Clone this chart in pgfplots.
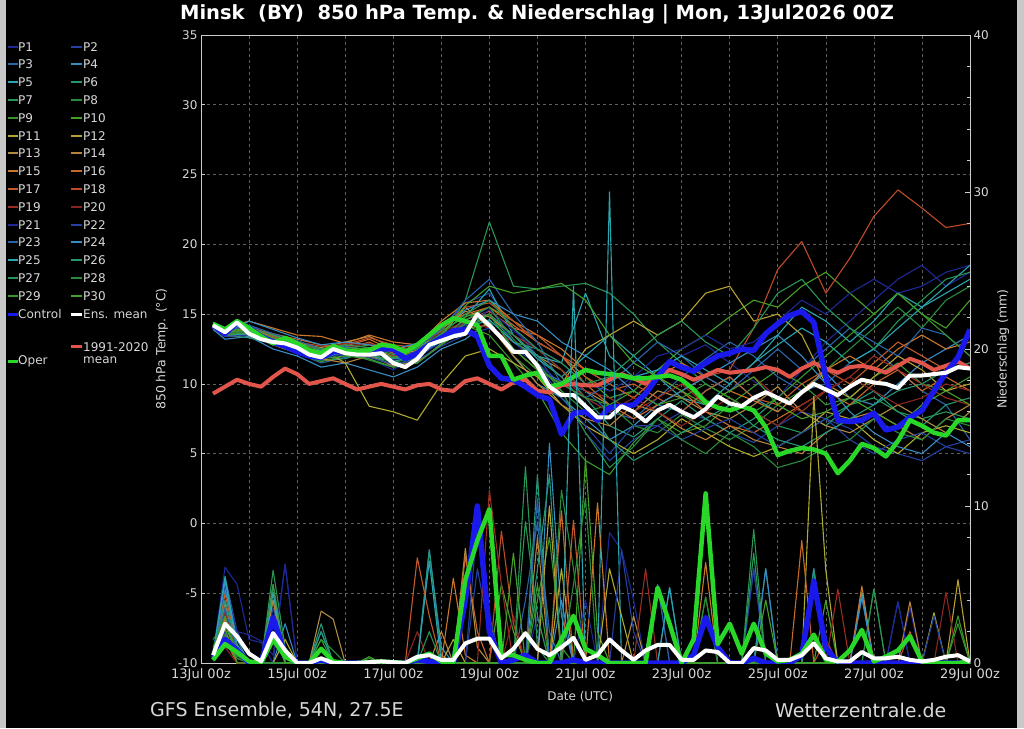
\documentclass[border=0pt]{standalone}
\usepackage{fontspec}
\setmainfont{DejaVu Sans}
\usepackage{pgfplots}
\pgfplotsset{compat=1.18}
\usepackage{pgfplotstable}

\definecolor{c1}{RGB}{30,40,150}
\definecolor{c2}{RGB}{35,65,160}
\definecolor{c3}{RGB}{40,100,170}
\definecolor{c4}{RGB}{55,140,195}
\definecolor{c5}{RGB}{40,165,175}
\definecolor{c6}{RGB}{35,150,120}
\definecolor{c7}{RGB}{40,150,85}
\definecolor{c8}{RGB}{40,140,60}
\definecolor{c9}{RGB}{55,150,45}
\definecolor{c10}{RGB}{70,160,40}
\definecolor{c11}{RGB}{175,170,45}
\definecolor{c12}{RGB}{185,160,50}
\definecolor{c13}{RGB}{175,140,65}
\definecolor{c14}{RGB}{185,130,60}
\definecolor{c15}{RGB}{205,120,40}
\definecolor{c16}{RGB}{200,105,40}
\definecolor{c17}{RGB}{195,90,45}
\definecolor{c18}{RGB}{190,75,40}
\definecolor{c19}{RGB}{155,45,35}
\definecolor{c20}{RGB}{140,35,35}
\definecolor{ctrl}{RGB}{25,25,235}
\definecolor{clim}{RGB}{225,85,75}
\definecolor{oper}{RGB}{40,215,40}
\definecolor{txt}{RGB}{215,215,215}
\definecolor{edge}{RGB}{200,200,200}

% member temperatures, one row per member (transposed below)
\pgfplotstableread{
name c0 c1 c2 c3 c4 c5 c6 c7 c8 c9 c10 c11 c12 c13 c14 c15 c16 c17 c18 c19 c20 c21 c22 c23 c24 c25 c26 c27 c28 c29 c30 c31 c32
t 0.25 0.5 1 1.5 2 2.5 3 3.5 4 4.5 5 5.5 6 6.5 7 7.5 8 8.5 9 9.5 10 10.5 11 11.5 12 12.5 13 13.5 14 14.5 15 15.5 16
P1 14.0 13.5 13.8 13.2 12.4 12.0 12.6 11.8 11.0 12.0 13.5 14.5 15.5 13.0 11.5 10.0 9.0 8.0 10.5 11.0 12.0 12.8 11.5 10.2 9.0 11.0 13.0 14.5 16.0 17.5 18.5 17.0 18.0
P2 14.3 13.9 14.2 13.4 12.8 12.2 12.0 12.5 11.8 12.4 14.0 15.8 16.5 14.0 12.0 9.5 6.5 4.5 6.0 7.0 8.0 7.5 6.5 5.8 7.0 8.0 7.5 6.8 5.5 5.0 4.5 5.5 5.0
P3 14.1 13.4 13.6 12.8 12.2 11.5 11.9 12.3 11.2 11.5 12.8 14.0 15.0 12.5 11.0 10.2 9.5 8.0 7.5 9.0 10.5 11.8 13.0 12.0 10.5 9.5 10.0 11.5 12.5 11.0 9.5 8.5 6.0
P4 13.9 13.2 13.4 12.5 12.0 11.2 11.5 11.0 10.5 11.2 12.5 13.2 14.5 12.0 10.0 9.0 7.5 6.0 7.0 8.5 8.0 9.5 10.5 9.0 8.0 9.5 10.8 9.0 8.5 10.0 11.5 12.5 13.5
P5 14.2 13.6 14.0 13.5 12.9 12.4 12.8 12.0 11.6 12.2 13.0 14.8 16.8 13.5 11.8 10.5 12.0 13.5 12.0 10.5 9.0 8.5 10.0 11.5 12.8 14.0 13.0 11.5 12.5 14.0 15.5 16.5 17.5
P6 14.0 13.5 13.3 12.9 12.5 11.7 11.8 12.4 11.9 11.5 12.9 13.8 15.0 13.0 12.5 11.0 9.0 7.0 6.2 7.5 8.8 7.5 6.5 7.5 9.0 8.0 7.0 8.5 9.5 8.0 7.0 8.5 9.0
P7 14.4 13.8 13.9 13.3 12.7 12.1 12.4 12.0 11.4 11.8 13.2 16.0 21.6 17.0 16.8 17.0 17.2 16.5 15.0 13.0 11.5 10.0 9.0 8.0 7.0 6.5 7.5 8.5 9.0 8.0 7.5 8.0 7.5
P8 14.1 13.7 13.5 13.0 12.6 12.0 12.2 11.7 11.2 11.9 13.6 15.0 14.5 12.0 10.5 9.5 8.0 8.5 7.0 6.5 7.8 6.8 6.0 7.0 8.5 9.5 11.0 12.5 14.0 15.5 14.0 16.0 17.0
P9 14.2 13.6 13.8 12.9 12.3 11.6 12.0 12.2 11.6 12.1 13.3 14.2 13.5 11.5 9.5 6.5 4.5 3.5 5.8 7.5 6.5 7.0 8.5 9.8 11.0 10.0 8.5 9.0 10.5 11.5 10.0 9.5 10.5
P10 14.0 13.5 13.7 13.1 12.8 12.3 12.5 12.8 12.2 12.5 13.8 14.8 15.5 14.5 13.0 12.0 10.5 9.0 9.5 11.0 12.5 13.5 14.8 16.0 15.5 17.0 18.0 16.5 15.0 16.5 15.0 14.0 16.0
P11 14.3 13.9 13.9 13.5 13.0 12.5 11.5 8.4 8.0 7.4 10.0 12.0 12.5 11.5 10.5 8.5 7.0 6.0 5.0 6.0 7.5 6.5 5.5 4.8 5.5 6.5 8.0 7.5 6.0 5.0 6.5 7.0 6.5
P12 14.2 13.7 13.6 13.0 12.5 12.0 12.4 12.6 12.0 12.4 13.5 15.5 14.0 12.5 11.0 10.0 12.5 13.5 14.5 13.5 14.5 16.5 17.0 14.5 15.0 13.5 10.0 9.0 10.5 12.0 11.0 9.5 10.0
P13 14.1 13.6 13.9 13.4 12.9 12.6 13.0 13.4 12.6 12.5 13.9 15.2 14.8 13.5 12.0 11.0 9.5 8.5 8.0 9.5 9.0 8.0 7.5 8.5 9.8 8.0 7.0 6.5 7.5 8.5 7.5 6.5 8.0
P14 14.0 13.4 13.5 12.8 12.2 11.8 11.5 12.0 11.3 11.6 12.8 14.0 14.2 12.0 10.0 8.5 7.5 7.0 8.5 8.0 6.8 6.0 7.0 6.0 5.5 5.0 6.5 7.5 8.0 7.0 6.0 7.5 8.5
P15 14.4 14.0 14.5 14.0 13.5 13.4 12.9 13.5 13.0 12.8 14.5 15.8 16.0 14.5 13.5 12.5 11.0 10.0 9.0 10.5 11.5 10.5 9.5 8.8 8.0 9.5 11.0 12.0 11.0 12.5 13.5 12.5 13.0
P16 14.2 13.8 14.0 13.6 13.2 12.8 12.7 13.2 12.4 12.9 14.2 15.0 15.5 14.2 13.0 12.0 10.0 8.5 7.5 8.5 9.5 8.0 7.0 6.5 7.5 8.5 9.5 8.5 10.0 11.0 9.5 10.5 9.5
P17 14.1 13.5 13.7 13.2 12.4 12.2 12.5 13.0 12.2 12.0 13.4 14.6 15.2 14.0 13.5 12.0 10.5 9.5 10.0 9.0 8.0 9.5 10.5 9.0 8.5 10.0 11.0 10.0 11.5 13.0 12.0 11.0 11.5
P18 14.3 13.9 14.1 13.4 13.0 12.7 12.8 13.3 12.8 12.6 14.0 15.5 15.8 14.5 13.0 12.0 11.0 10.0 9.0 10.5 9.5 10.5 11.0 14.0 18.2 20.2 16.5 19.0 22.0 23.9 22.6 21.2 21.5
P19 14.0 13.6 13.8 13.3 12.8 12.5 12.9 12.8 12.0 12.3 13.4 14.4 15.0 13.5 12.5 11.0 9.5 9.0 8.0 9.0 10.0 8.5 9.5 10.5 9.0 8.0 9.5 10.5 12.0 11.0 10.0 9.0 8.5
P20 14.2 13.7 13.9 13.1 12.6 12.3 12.6 12.9 12.3 12.7 13.7 14.5 14.0 13.0 12.0 10.5 9.0 8.0 9.0 8.0 7.0 8.0 9.0 8.0 7.0 8.5 9.5 10.5 9.5 8.5 9.0 10.0 9.5
P21 14.1 13.5 13.7 12.9 12.4 11.9 12.1 12.3 11.7 11.9 13.0 14.2 15.3 13.8 12.5 11.5 10.0 9.5 10.5 12.0 12.5 13.5 12.5 13.0 14.5 16.0 15.0 16.5 17.5 16.5 17.0 18.0 18.5
P22 14.0 13.4 13.5 12.8 12.3 11.8 12.2 11.9 11.4 11.7 12.7 13.5 14.0 12.5 11.5 9.0 7.0 5.0 7.0 7.0 6.0 6.8 7.5 6.5 5.5 6.5 7.5 6.0 5.0 6.0 6.5 5.5 6.0
P23 14.3 13.8 14.2 13.6 13.1 12.5 12.7 12.4 11.9 12.6 13.9 16.0 17.5 15.0 13.0 10.0 9.0 10.0 11.5 13.0 12.0 10.5 9.5 11.0 12.5 11.0 12.5 14.0 13.0 12.0 14.0 13.5 12.0
P24 14.2 13.7 14.5 13.9 13.3 12.8 13.0 12.8 12.5 12.9 14.1 15.3 16.0 15.0 14.5 13.0 12.0 11.0 9.5 8.5 9.5 10.5 11.5 12.5 13.5 12.0 10.0 8.0 6.5 5.5 5.0 6.5 5.5
P25 14.1 13.5 13.6 13.0 12.5 11.9 12.3 12.1 11.6 12.0 13.1 14.0 14.6 13.0 12.0 11.5 16.5 12.0 10.5 11.0 12.0 11.0 10.0 11.5 13.5 15.5 14.5 13.0 14.5 16.5 15.5 17.0 18.5
P26 14.0 13.6 13.8 13.2 12.7 12.2 12.5 12.3 11.8 12.2 13.3 14.3 15.0 13.5 12.0 10.5 8.5 6.0 4.5 5.5 6.5 7.5 8.5 7.0 6.0 5.5 6.5 7.5 8.5 9.5 10.0 11.0 11.5
P27 14.4 13.8 14.0 13.5 12.9 12.5 12.8 12.6 12.1 12.5 13.6 15.0 16.0 14.0 12.5 11.5 10.0 10.5 12.0 13.5 14.5 13.0 12.0 14.0 16.5 17.5 15.5 14.0 12.5 14.5 16.0 17.5 18.0
P28 14.2 13.6 13.8 13.1 12.6 12.0 12.4 12.2 11.5 12.0 13.4 14.6 15.5 13.2 11.5 9.5 6.5 4.0 5.5 7.5 6.0 5.0 6.5 5.5 4.0 4.5 5.5 6.0 7.5 6.5 6.0 7.5 7.0
P29 14.0 13.5 13.7 13.0 12.5 11.8 12.0 11.8 11.2 11.5 12.8 14.0 15.0 12.5 11.0 10.0 9.0 8.5 9.5 8.5 9.0 10.0 9.0 8.0 9.0 10.5 12.0 13.5 15.0 16.5 15.0 13.5 12.0
P30 14.3 13.7 13.9 13.3 12.8 12.3 12.6 12.5 11.9 12.3 13.5 15.6 17.0 16.5 16.8 17.2 16.0 13.5 11.5 10.5 9.5 8.5 9.5 10.5 8.5 7.5 8.0 9.0 8.0 7.0 8.5 9.5 8.5
}\rawT
\pgfplotstabletranspose[colnames from=name]\memT\rawT

% main temperature series (6-hourly)
\pgfplotstableread{
t mean clim ctrl oper
0.25 14.2 9.3 14.2 14.3
0.5 13.7 9.8 13.6 13.9
0.75 14.4 10.3 14.4 14.5
1.0 13.6 10.0 14.0 14.0
1.25 13.2 9.8 13.4 13.4
1.5 13.0 10.5 13.0 12.9
1.75 12.9 11.1 12.7 13.3
2.0 12.6 10.7 12.3 12.9
2.25 12.1 10.0 12.0 12.4
2.5 11.9 10.2 11.9 12.2
2.75 12.5 10.4 12.3 12.7
3.0 12.2 10.0 12.4 12.4
3.25 12.1 9.6 12.2 12.3
3.5 12.1 9.8 12.2 12.4
3.75 12.2 10.0 12.5 12.8
4.0 11.5 9.8 12.5 12.7
4.25 11.2 9.6 11.8 12.3
4.5 11.8 9.9 12.2 12.8
4.75 12.8 10.0 12.8 13.5
5.0 13.1 9.6 13.3 14.2
5.25 13.4 9.5 13.8 14.7
5.5 13.6 10.2 13.9 14.5
5.75 15.0 10.4 13.4 14.2
6.0 14.2 10.0 11.3 12.0
6.25 13.3 9.6 10.4 12.0
6.5 12.3 10.1 10.3 10.3
6.75 12.3 10.3 9.8 10.6
7.0 11.3 9.5 9.2 10.8
7.25 9.8 9.4 8.9 9.8
7.5 9.2 9.9 6.4 10.0
7.75 9.2 10.0 7.9 10.5
8.0 8.4 9.9 8.0 11.0
8.25 7.6 9.9 7.4 10.8
8.5 7.6 10.3 8.3 10.7
8.75 8.4 10.7 8.4 10.6
9.0 8.0 10.4 8.5 10.4
9.25 7.3 10.0 9.3 10.4
9.5 8.1 10.5 10.5 10.5
9.75 8.5 11.0 11.6 10.6
10.0 8.0 10.7 11.2 10.3
10.25 7.6 10.3 10.9 9.6
10.5 8.2 10.6 11.5 8.7
10.75 9.1 11.0 12.0 8.3
11.0 8.6 10.8 12.2 8.1
11.25 8.4 10.9 12.5 8.4
11.5 9.0 11.0 12.4 8.1
11.75 9.4 11.2 13.6 6.9
12.0 9.0 11.0 14.3 4.9
12.25 8.6 10.5 14.9 5.2
12.5 9.4 11.1 15.2 5.4
12.75 10.0 11.5 14.4 5.3
13.0 9.6 11.1 10.5 5.0
13.25 9.2 10.8 7.4 3.6
13.5 9.8 11.2 7.3 4.5
13.75 10.3 11.3 7.4 5.7
14.0 10.1 11.1 7.9 5.4
14.25 10.0 10.8 6.7 4.8
14.5 9.7 11.3 6.9 5.9
14.75 10.6 11.8 7.6 7.4
15.0 10.6 11.5 8.1 7.0
15.25 10.7 11.0 9.5 6.5
15.5 10.8 11.3 10.8 6.3
15.75 11.2 11.6 11.9 7.4
16.0 11.1 11.1 13.9 7.4
}\mainT

% main precipitation series (6-hourly, mm)
\pgfplotstableread{
t mean ctrl oper
0.25 0.5 0.3 0.2
0.5 2.5 1.5 1.2
0.75 1.7 0.8 0.7
1.0 0.6 0.0 0.1
1.25 0.1 0.0 0.0
1.5 1.9 2.9 1.5
1.75 0.8 0.5 0.4
2.0 0.0 0.0 0.0
2.25 0.0 0.0 0.0
2.5 0.3 0.2 0.9
2.75 0.0 0.0 0.1
3.0 0.0 0.0 0.0
3.25 0.0 0.0 0.0
3.5 0.05 0.0 0.05
3.75 0.1 0.0 0.1
4.0 0.05 0.0 0.05
4.25 0.0 0.0 0.0
4.5 0.4 0.2 0.3
4.75 0.5 0.1 0.6
5.0 0.2 0.0 0.1
5.25 0.2 0.0 0.0
5.5 1.25 4.0 5.3
5.75 1.55 10.0 7.8
6.0 1.55 2.0 9.8
6.25 0.3 0.0 0.5
6.5 0.9 0.2 0.5
6.75 1.9 0.5 0.2
7.0 0.9 0.0 0.0
7.25 0.5 0.0 0.0
7.5 1.0 0.0 1.5
7.75 1.6 0.2 3.0
8.0 0.2 0.0 0.9
8.25 0.5 0.0 0.5
8.5 1.5 0.0 0.0
8.75 0.8 0.0 0.0
9.0 0.2 0.0 0.0
9.25 0.8 0.0 0.0
9.5 1.15 0.0 4.8
9.75 1.15 0.0 2.5
10.0 0.2 0.0 0.0
10.25 0.2 0.5 1.5
10.5 0.8 2.9 10.8
10.75 0.7 1.0 1.2
11.0 0.0 0.0 2.5
11.25 0.0 0.0 0.6
11.5 0.95 0.3 2.5
11.75 0.8 0.0 0.6
12.0 0.2 0.0 0.1
12.25 0.2 0.0 0.2
12.5 0.5 0.5 0.6
12.75 1.25 5.2 1.8
13.0 0.3 1.0 0.2
13.25 0.1 0.0 0.1
13.5 0.1 0.0 0.8
13.75 0.7 0.0 2.1
14.0 0.3 0.0 0.1
14.25 0.3 0.0 0.4
14.5 0.4 0.0 0.8
14.75 0.2 0.0 1.7
15.0 0.1 0.0 0.1
15.25 0.2 0.0 0.0
15.5 0.4 0.0 0.0
15.75 0.5 0.0 0.0
16.0 0.1 0.0 0.1
}\mainP

\pgfplotsset{
  mw/.style={line width=1.1pt, line join=round},
}

\begin{document}
\begin{tikzpicture}
\fill[black] (0pt,0pt) rectangle (1024pt,728pt);
\fill[edge] (0pt,0pt) rectangle (6pt,728pt);
\fill[edge] (1017pt,0pt) rectangle (1024pt,728pt);

% ---------- temperature axis ----------
\begin{axis}[
  at={(201pt,65pt)}, anchor=south west,
  width=769pt, height=628pt, scale only axis,
  xmin=0, xmax=16, ymin=-10, ymax=35,
  axis line style={draw=white!80!black, line width=0.8pt},
  xtick={0,1,...,16},
  xticklabels={13Jul 00z,,15Jul 00z,,17Jul 00z,,19Jul 00z,,21Jul 00z,,23Jul 00z,,25Jul 00z,,27Jul 00z,,29Jul 00z},
  ytick={-10,-5,...,35},
  yticklabels={-10,-5,0,5,10,15,20,25,30,35},
  xtick pos=bottom, ytick pos=left,
  major tick length=4pt,
  tick style={draw=white!80!black, line width=0.6pt},
  xmajorgrids, ymajorgrids,
  grid style={draw=gray!75!black, line width=0.6pt, dash pattern=on 3pt off 3pt},
  xticklabel style={text=txt, font=\fontsize{13}{13}\selectfont, yshift=-2pt},
  yticklabel style={text=txt, font=\fontsize{12}{12}\selectfont},
  xlabel={Date (UTC)}, ylabel={850 hPa Temp. (°C)},
  every axis x label/.style={at={(axis description cs:0.493,-0.054)}, anchor=center, text=txt, font=\fontsize{12}{12}\selectfont},
  every axis y label/.style={at={(axis description cs:-0.0507,0.5)}, rotate=90, anchor=center, text=txt, font=\fontsize{12.5}{12.5}\selectfont},
]
\addplot[c1, mw] table[x=t,y=P1]{\memT};
\addplot[c2, mw] table[x=t,y=P2]{\memT};
\addplot[c3, mw] table[x=t,y=P3]{\memT};
\addplot[c4, mw] table[x=t,y=P4]{\memT};
\addplot[c5, mw] table[x=t,y=P5]{\memT};
\addplot[c6, mw] table[x=t,y=P6]{\memT};
\addplot[c7, mw] table[x=t,y=P7]{\memT};
\addplot[c8, mw] table[x=t,y=P8]{\memT};
\addplot[c9, mw] table[x=t,y=P9]{\memT};
\addplot[c10, mw] table[x=t,y=P10]{\memT};
\addplot[c11, mw] table[x=t,y=P11]{\memT};
\addplot[c12, mw] table[x=t,y=P12]{\memT};
\addplot[c13, mw] table[x=t,y=P13]{\memT};
\addplot[c14, mw] table[x=t,y=P14]{\memT};
\addplot[c15, mw] table[x=t,y=P15]{\memT};
\addplot[c16, mw] table[x=t,y=P16]{\memT};
\addplot[c17, mw] table[x=t,y=P17]{\memT};
\addplot[c18, mw] table[x=t,y=P18]{\memT};
\addplot[c19, mw] table[x=t,y=P19]{\memT};
\addplot[c20, mw] table[x=t,y=P20]{\memT};
\addplot[c1, mw] table[x=t,y=P21]{\memT};
\addplot[c2, mw] table[x=t,y=P22]{\memT};
\addplot[c3, mw] table[x=t,y=P23]{\memT};
\addplot[c4, mw] table[x=t,y=P24]{\memT};
\addplot[c5, mw] table[x=t,y=P25]{\memT};
\addplot[c6, mw] table[x=t,y=P26]{\memT};
\addplot[c7, mw] table[x=t,y=P27]{\memT};
\addplot[c8, mw] table[x=t,y=P28]{\memT};
\addplot[c9, mw] table[x=t,y=P29]{\memT};
\addplot[c10, mw] table[x=t,y=P30]{\memT};
\addplot[clim, line width=4pt, line join=round] table[x=t,y=clim]{\mainT};
\addplot[ctrl, line width=5.5pt, line join=round] table[x=t,y=ctrl]{\mainT};
\addplot[oper, line width=4.5pt, line join=round] table[x=t,y=oper]{\mainT};
\addplot[white, line width=4pt, line join=round] table[x=t,y=mean]{\mainT};
\end{axis}

% ---------- precipitation axis ----------
\begin{axis}[
  at={(201pt,65pt)}, anchor=south west,
  width=769pt, height=628pt, scale only axis,
  xmin=0, xmax=16, ymin=0, ymax=40,
  axis y line*=right, axis x line=none,
  axis line style={draw=white!80!black, line width=0.8pt},
  ytick={0,10,...,40}, yticklabels={0,10,20,30,40},
  minor ytick={2,4,...,38},
  major tick length=5pt, minor tick length=3pt,
  tick style={draw=white!80!black, line width=0.6pt},
  yticklabel style={text=txt, font=\fontsize{12}{12}\selectfont},
  ylabel={Niederschlag (mm)},
  every axis y label/.style={at={(axis description cs:1.043,0.5)}, rotate=90, anchor=center, text=txt, font=\fontsize{12.5}{12.5}\selectfont},
]
\addplot[c1, mw] coordinates {(0.25,0.5)(0.5,6.1)(0.75,5.0)(1,1.5)(1.25,1.3)(1.5,0)(1.75,6.3)(2,0)(6.75,0)(7,3.0)(7.25,0)(8.25,0)(8.5,8.3)(8.75,7.2)(9,4.0)(9.25,0)(14.5,0)(14.75,3.5)(15,0)(16,0)};
\addplot[c2, mw] coordinates {(0.25,0.3)(0.5,4.0)(0.75,1.0)(1,0)(1.25,0)(1.5,3.5)(1.75,0.5)(2,0)(5.5,0)(5.75,6.0)(6,2.0)(6.25,0)(9.25,0)(9.5,5.0)(9.75,0)(11.25,0)(11.5,6.0)(11.75,0)(14.25,0)(14.5,3.9)(14.75,0)(16,0)};
\addplot[c3, mw] coordinates {(0.25,0.2)(0.5,5.5)(0.75,2.0)(1,0.5)(1.25,0)(1.5,2.0)(1.75,0)(6.5,0)(6.75,4.0)(7,9.0)(7.25,2.0)(7.5,0)(12.5,0)(12.75,6.0)(13,0)(13.5,0)(13.75,4.2)(14,0)(16,0)};
\addplot[c4, mw] coordinates {(0.25,0.4)(0.5,4.7)(0.75,1.2)(1,0)(1.5,0)(1.75,2.5)(2,0)(4.5,0)(4.75,7.2)(5,1.0)(5.25,0)(7,0)(7.25,14.0)(7.5,3.0)(7.75,0)(9.5,0)(9.75,4.8)(10,0)(12.5,0)(12.75,6.0)(13,0)(16,0)};
\addplot[c5, mw] coordinates {(0.25,0.3)(0.5,5.0)(0.75,1.0)(1,0)(1.25,0)(1.5,4.0)(1.75,0)(8.25,0)(8.5,30.0)(8.75,0)(13.5,0)(13.75,4.5)(14,0)(16,0)};
\addplot[c6, mw] coordinates {(0.25,0.5)(0.5,3.0)(0.75,0.5)(1,0)(2.25,0)(2.5,2.5)(2.75,0)(4.5,0)(4.75,7.2)(5,0.5)(5.25,0)(6.75,0)(7,12.0)(7.25,0)(11.5,0)(11.75,6.0)(12,0)(16,0)};
\addplot[c7, mw] coordinates {(0.25,0.8)(0.5,3.5)(0.75,0.8)(1,0)(1.25,0)(1.5,5.9)(1.75,1.0)(2,0)(6.5,0)(6.75,12.5)(7,1.0)(7.25,0)(11.25,0)(11.5,8.5)(11.75,0)(16,0)};
\addplot[c8, mw] coordinates {(0.25,1.5)(0.5,2.5)(0.75,0.5)(1,0)(2.25,0)(2.5,1.5)(2.75,0.8)(3,0)(7.25,0)(7.5,11.0)(7.75,6.0)(8,0)(13.75,0)(14,4.7)(14.25,0)(16,0)};
\addplot[c9, mw] coordinates {(0.25,0.3)(0.5,2.0)(0.75,0.3)(1,0)(1.25,0)(1.5,4.5)(1.75,0)(6.75,0)(7,4.0)(7.25,8.0)(7.5,1.0)(7.75,0)(10.25,0)(10.5,4.2)(10.75,0)(15.5,0)(15.75,2.5)(16,0)};
\addplot[c10, mw] coordinates {(0.25,0.2)(0.5,1.5)(0.75,0)(3.25,0)(3.5,0.4)(3.75,0)(6,0)(6.25,5.0)(6.5,2.0)(6.75,0)(7.75,0)(8,13.0)(8.25,2.0)(8.5,0)(12.75,0)(13,4.0)(13.25,0)(16,0)};
\addplot[c11, mw] coordinates {(0.25,0.2)(0.5,2.5)(0.75,0.5)(1,0)(1.5,0)(1.75,1.5)(2,0)(7.25,0)(7.5,6.0)(7.75,0)(8.25,0)(8.5,6.0)(8.75,3.0)(9,0)(12.5,0)(12.75,17.0)(13,5.9)(13.25,0)(15,0)(15.25,3.2)(15.5,0)(16,0)};
\addplot[c12, mw] coordinates {(0.25,0.3)(0.5,3.0)(0.75,0.8)(1,0)(5,0)(5.25,1.5)(5.5,0)(7,0)(7.25,10.0)(7.5,0)(15.5,0)(15.75,5.3)(16,0)};
\addplot[c13, mw] coordinates {(0.25,0.4)(0.5,3.8)(0.75,0.5)(1,0)(2.25,0)(2.5,3.3)(2.75,2.8)(3,0)(5.25,0)(5.5,7.3)(5.75,1.0)(6,0)(8.75,0)(9,3.0)(9.25,0)(16,0)};
\addplot[c14, mw] coordinates {(0.25,0.2)(0.5,2.0)(0.75,0)(1.25,0)(1.5,4.0)(1.75,0)(4.75,0)(5,2.0)(5.25,0)(6.75,0)(7,8.0)(7.25,0)(14.5,0)(14.75,3.9)(15,0)(16,0)};
\addplot[c15, mw] coordinates {(0.25,0.5)(0.5,2.8)(0.75,0.5)(1,0)(1.25,0)(1.5,5.0)(1.75,0)(5,0)(5.25,5.4)(5.5,0.5)(5.75,0)(8,0)(8.25,10.2)(8.5,0)(10.25,0)(10.5,6.4)(10.75,0)(13.5,0)(13.75,4.9)(14,0)(16,0)};
\addplot[c16, mw] coordinates {(0.25,0.3)(0.5,1.8)(0.75,0)(2.25,0)(2.5,1.0)(2.75,0)(5.25,0)(5.5,6.8)(5.75,2.0)(6,0)(7.25,0)(7.5,9.7)(7.75,0)(12.25,0)(12.5,7.8)(12.75,0)(16,0)};
\addplot[c17, mw] coordinates {(0.25,0.2)(0.5,4.4)(0.75,1.0)(1,0)(4.25,0)(4.5,6.7)(4.75,3.0)(5,0)(7.5,0)(7.75,9.1)(8,0)(14.5,0)(14.75,2.0)(15,0)(16,0)};
\addplot[c18, mw] coordinates {(0.25,0.3)(0.5,2.2)(0.75,0)(1.25,0)(1.5,3.0)(1.75,0)(6,0)(6.25,8.4)(6.5,2.5)(6.75,0)(12.75,0)(13,1.5)(13.25,0)(16,0)};
\addplot[c19, mw] coordinates {(0.25,0.2)(0.5,3.3)(0.75,0.5)(1,0)(5.75,0)(6,11.0)(6.25,5.0)(6.5,0)(9,0)(9.25,6.0)(9.5,0)(13,0)(13.25,4.7)(13.5,0)(16,0)};
\addplot[c20, mw] coordinates {(0.25,0.1)(0.5,1.0)(0.75,0)(4.25,0)(4.5,2.0)(4.75,0)(6.25,0)(6.5,3.0)(6.75,0)(15.25,0)(15.5,4.5)(15.75,0)(16,0)};
\addplot[c1, mw] coordinates {(0.25,0.5)(0.5,5.0)(0.75,2.0)(1,1.8)(1.25,1.4)(1.5,0.5)(1.75,6.3)(2,0)(7.75,0)(8,4.0)(8.25,0)(14.25,0)(14.5,3.9)(14.75,0)(16,0)};
\addplot[c2, mw] coordinates {(0.25,0.2)(0.5,2.0)(0.75,0.5)(1,0)(5.5,0)(5.75,9.0)(6,3.0)(6.25,0)(8.5,0)(8.75,7.2)(9,2.0)(9.25,0)(11.25,0)(11.5,6.0)(11.75,0)(15,0)(15.25,3.0)(15.5,0)(16,0)};
\addplot[c3, mw] coordinates {(0.25,0.4)(0.5,3.5)(0.75,0.8)(1,0)(1.25,0)(1.5,2.5)(1.75,0)(6.75,0)(7,10.5)(7.25,0)(9.25,0)(9.5,5.0)(9.75,0)(12.5,0)(12.75,5.0)(13,0)(16,0)};
\addplot[c4, mw] coordinates {(0.25,0.3)(0.5,5.2)(0.75,1.5)(1,0)(2.25,0)(2.5,2.0)(2.75,0)(7.25,0)(7.5,4.0)(7.75,0)(11.5,0)(11.75,6.0)(12,0)(13.5,0)(13.75,4.2)(14,0)(16,0)};
\addplot[c5, mw] coordinates {(0.25,0.6)(0.5,5.5)(0.75,1.0)(1,0)(1.25,0)(1.5,4.5)(1.75,0)(4.5,0)(4.75,6.5)(5,0)(7.5,0)(7.75,24.0)(8,0)(9.5,0)(9.75,4.8)(10,0)(16,0)};
\addplot[c6, mw] coordinates {(0.25,0.4)(0.5,4.0)(0.75,1.0)(1,0)(2.25,0)(2.5,2.0)(2.75,0)(6.75,0)(7,6.0)(7.25,12.0)(7.5,0)(12.5,0)(12.75,6.0)(13,0)(16,0)};
\addplot[c7, mw] coordinates {(0.25,0.3)(0.5,2.5)(0.75,0.5)(1,0)(1.25,0)(1.5,5.0)(1.75,0.5)(2,0)(4.5,0)(4.75,2.0)(5,0)(6.5,0)(6.75,9.0)(7,3.0)(7.25,0)(11.25,0)(11.5,7.0)(11.75,0)(13.75,0)(14,4.7)(14.25,0)(16,0)};
\addplot[c8, mw] coordinates {(0.25,0.2)(0.5,1.8)(0.75,0.3)(1,0)(3.25,0)(3.5,0.3)(3.75,0)(7.5,0)(7.75,5.0)(8,10.5)(8.25,0)(10.25,0)(10.5,4.2)(10.75,0)(16,0)};
\addplot[c9, mw] coordinates {(0.25,1.0)(0.5,3.0)(0.75,0.5)(1,0)(2.25,0)(2.5,1.5)(2.75,0)(6.75,0)(7,5.0)(7.25,0)(15.5,0)(15.75,3.0)(16,0)};
\addplot[c10, mw] coordinates {(0.25,0.5)(0.5,2.2)(0.75,0)(1.25,0)(1.5,2.5)(1.75,0)(6.25,0)(6.5,7.0)(6.75,0)(11.5,0)(11.75,4.0)(12,0)(16,0)};
\addplot[ctrl, line width=5.5pt, line join=round] table[x=t,y=ctrl]{\mainP};
\addplot[oper, line width=4.5pt, line join=round] table[x=t,y=oper]{\mainP};
\addplot[white, line width=4pt, line join=round] table[x=t,y=mean]{\mainP};
\end{axis}

% ---------- legend ----------
\foreach \n/\c/\r in {1/c1/0,3/c3/1,5/c5/2,7/c7/3,9/c9/4,11/c11/5,13/c13/6,15/c15/7,17/c17/8,19/c19/9,21/c1/10,23/c3/11,25/c5/12,27/c7/13,29/c9/14}{
  \draw[\c, line width=2pt] (8pt,{(728-46.7-\r*17.8)*1pt}) -- ++(10pt,0pt);
  \node[anchor=west, inner sep=0pt, text=txt, font=\fontsize{12}{12}\selectfont] at (18pt,{(728-46.7-\r*17.8)*1pt}) {P\n};
}
\foreach \n/\c/\r in {2/c2/0,4/c4/1,6/c6/2,8/c8/3,10/c10/4,12/c12/5,14/c14/6,16/c16/7,18/c18/8,20/c20/9,22/c2/10,24/c4/11,26/c6/12,28/c8/13,30/c10/14}{
  \draw[\c, line width=2pt] (71pt,{(728-46.7-\r*17.8)*1pt}) -- ++(11pt,0pt);
  \node[anchor=west, inner sep=0pt, text=txt, font=\fontsize{12}{12}\selectfont] at (83pt,{(728-46.7-\r*17.8)*1pt}) {P\n};
}
\draw[ctrl, line width=2.5pt] (8pt,413.7pt) -- ++(10pt,0pt);
\node[anchor=west, inner sep=0pt, text=txt, font=\fontsize{12}{12}\selectfont] at (18pt,413.7pt) {Control};
\draw[white, line width=2.5pt] (71pt,413.7pt) -- ++(11pt,0pt);
\node[anchor=west, inner sep=0pt, text=txt, font=\fontsize{12}{12}\selectfont] at (83pt,413.7pt) {Ens. mean};
\draw[clim, line width=2.5pt] (71pt,381.3pt) -- ++(11pt,0pt);
\node[anchor=west, inner sep=0pt, text=txt, font=\fontsize{12}{12}\selectfont] at (83pt,381.3pt) {1991-2020};
\node[anchor=west, inner sep=0pt, text=txt, font=\fontsize{12}{12}\selectfont] at (83pt,368pt) {mean};
\draw[oper, line width=2.5pt] (8pt,366.3pt) -- ++(10pt,0pt);
\node[anchor=west, inner sep=0pt, text=txt, font=\fontsize{12}{12}\selectfont] at (18pt,366.3pt) {Oper};

% ---------- title and footer ----------
\node[text=white, font=\bfseries\fontsize{19.5}{20}\selectfont] at (537pt,714pt) {Minsk\ \ (BY)\ \ 850 hPa Temp. \& Niederschlag | Mon, 13Jul2026 00Z};
\node[anchor=west, inner sep=0pt, text=txt, font=\fontsize{19}{19}\selectfont] at (150pt,18pt) {GFS Ensemble, 54N, 27.5E};
\node[anchor=west, inner sep=0pt, text=txt, font=\fontsize{19}{19}\selectfont] at (775pt,18pt) {Wetterzentrale.de};
\end{tikzpicture}
\end{document}
